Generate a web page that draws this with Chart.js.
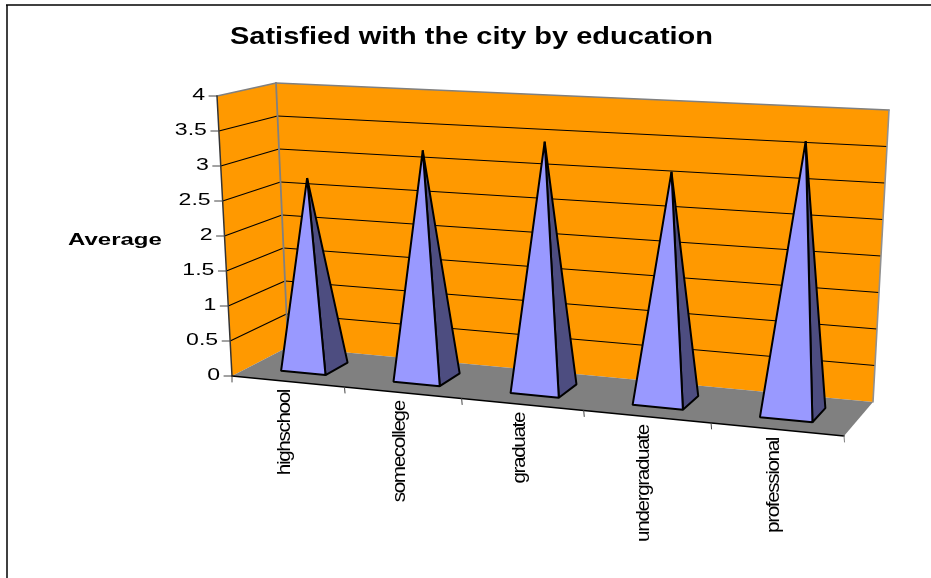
<!DOCTYPE html>
<html><head><meta charset="utf-8">
<style>html,body{margin:0;padding:0;background:#fff}canvas{display:block}</style>
<script src="https://cdn.jsdelivr.net/npm/chart.js@4"></script>
</head><body><canvas id="c" width="931" height="578"></canvas>
<script>
const titleText = "Satisfied with the city by education";
const yAxisTitle = "Average";
const categories = ["highschool","somecollege","graduate","undergraduate","professional"];
const averages = [2.75,3.25,3.47,3.15,3.67];
const yMin = 0, yMax = 4, yStep = 0.5;

// 3D box corners of the Excel-style plot, in canvas pixels
const box = {
  fb0:[232,376], fb1:[844,436], bb0:[288,347], bb1:[873,402],
  ft0:[217,96],  ft1:[863,130], bt0:[276,83],  bt1:[889,110]
};
const persp = 0.11, depthHalf = 0.21;
const warp = u => u/(1+persp*(1-u));
const mix = (a,b,t)=>[a[0]+(b[0]-a[0])*t, a[1]+(b[1]-a[1])*t];
function P(u,v,w){
  const U = warp(u);
  const f0 = mix(box.fb0,box.fb1,U), b0 = mix(box.bb0,box.bb1,U);
  const f1 = mix(box.ft0,box.ft1,U), b1 = mix(box.bt0,box.bt1,U);
  return mix(mix(f0,b0,w), mix(f1,b1,w), v);
}
function poly(ctx,pts,fill,stroke,lw){
  ctx.beginPath(); pts.forEach((p,i)=>i?ctx.lineTo(p[0],p[1]):ctx.moveTo(p[0],p[1])); ctx.closePath();
  if(fill){ctx.fillStyle=fill;ctx.fill();}
  if(stroke){ctx.strokeStyle=stroke;ctx.lineWidth=lw;ctx.stroke();}
}
function line(ctx,a,b,c,lw){ctx.beginPath();ctx.moveTo(a[0],a[1]);ctx.lineTo(b[0],b[1]);ctx.strokeStyle=c;ctx.lineWidth=lw;ctx.stroke();}
function txt(ctx,s,x,y,font,sx,align,base,rot,ls){
  ctx.save();ctx.translate(x,y);if(rot)ctx.rotate(rot);ctx.scale(sx,1);
  ctx.font=font;ctx.textAlign=align;ctx.textBaseline=base;ctx.fillStyle="#000";
  if(ls)ctx.letterSpacing=ls;
  ctx.fillText(s,0,0);ctx.restore();
}
const FONT='"Liberation Sans"';

const pyramid3d = {
  id:'pyramid3d',
  beforeDatasetsDraw(chart){
    const ctx=chart.ctx, ca=chart.chartArea, ys=chart.scales.y, xs=chart.scales.x;
    ctx.save();ctx.lineJoin='round';
    // frame
    ctx.fillStyle="#fff";ctx.fillRect(0,0,931,578);
    line(ctx,[7,5],[7,578],"#404040",2);
    line(ctx,[6,5],[931,5],"#000",1.3);
    // walls and floor
    poly(ctx,[P(0,0,1),P(1,0,1),P(1,1,1),P(0,1,1)],"#FF9900");
    poly(ctx,[P(0,0,0),P(0,0,1),P(0,1,1),P(0,1,0)],"#FF9900");
    poly(ctx,[P(0,0,0),P(1,0,0),P(1,0,1),P(0,0,1)],"#808080");
    // gridlines
    ys.ticks.forEach(t=>{
      const v=(ca.bottom-ys.getPixelForValue(t.value))/ca.height;
      if(v>0&&v<1){line(ctx,P(0,v,0),P(0,v,1),"#000",1.2);line(ctx,P(0,v,1),P(1,v,1),"#000",1.2);}
    });
    // wall edges
    ctx.lineCap='round';
    line(ctx,P(0,1,0),P(0,1,1),"#808080",1.6);
    line(ctx,P(0,1,1),P(1,1,1),"#808080",1.6);
    line(ctx,P(1,1,1),P(1,0,1),"#909090",1.6);
    line(ctx,P(0,1,1),P(0,0,1),"#808080",1.8);
    line(ctx,P(0,0,0),P(0,1,0),"#333",1.5);
    line(ctx,P(0,0,0),P(1,0,0),"#000",1.5);
    // axis ticks & labels
    ys.ticks.forEach(t=>{
      const v=(ca.bottom-ys.getPixelForValue(t.value))/ca.height, p=P(0,v,0);
      line(ctx,[p[0]-8,p[1]],p,"#444",1);
      txt(ctx,String(t.value),p[0]-12,p[1],'16px '+FONT,1.44,'right','middle');
    });
    for(let i=0;i<=categories.length;i++){
      const p=P(i/categories.length,0,0);
      line(ctx,p,[p[0]+(i?0.5:0),p[1]+6],i==categories.length?"#808080":"#444",1);
    }
    categories.forEach((c,i)=>{
      const px=xs.getPixelForValue(i), p=P((px-ca.left)/ca.width,0,0);
      txt(ctx,c,p[0]+2.5,p[1]+8.5,'18px '+FONT,1.15,'right','alphabetic',-Math.PI/2,'-1.2px');
    });
    txt(ctx,yAxisTitle,68,245,'bold 16px '+FONT,1.5,'left','alphabetic');
    ctx.font='bold 23px '+FONT;
    const sx=483/ctx.measureText(titleText).width;
    txt(ctx,titleText,230,44,'bold 23px '+FONT,sx,'left','alphabetic');
    ctx.restore();
  },
  afterDatasetsDraw(chart){
    const ctx=chart.ctx, ca=chart.chartArea;
    ctx.save();ctx.lineJoin='bevel';ctx.lineCap='butt';
    chart.getDatasetMeta(0).data.forEach(el=>{
      const u0=(el.x-el.width/2-ca.left)/ca.width, u1=(el.x+el.width/2-ca.left)/ca.width, uc=(el.x-ca.left)/ca.width;
      const v=(ca.bottom-el.y)/ca.height;
      const FL=P(u0,0,.5-depthHalf), FR=P(u1,0,.5-depthHalf), BR=P(u1,0,.5+depthHalf), T=P(uc,v,.5);
      poly(ctx,[FR,BR,T],"#4D4D80","#000",2);
      poly(ctx,[FL,FR,T],"#9999FF","#000",2);
    });
    ctx.restore();
  }
};

new Chart(document.getElementById('c'),{
  type:'bar',
  data:{labels:categories,datasets:[{label:yAxisTitle,data:averages,backgroundColor:'rgba(0,0,0,0)',borderWidth:0,barPercentage:0.4,categoryPercentage:1}]},
  options:{
    responsive:false,animation:false,
    layout:{padding:0},
    plugins:{legend:{display:false},tooltip:{enabled:false},title:{display:false}},
    scales:{
      x:{type:'category',display:false,offset:true},
      y:{type:'linear',display:false,min:yMin,max:yMax,ticks:{stepSize:yStep}}
    }
  },
  plugins:[pyramid3d]
});
</script></body></html>
